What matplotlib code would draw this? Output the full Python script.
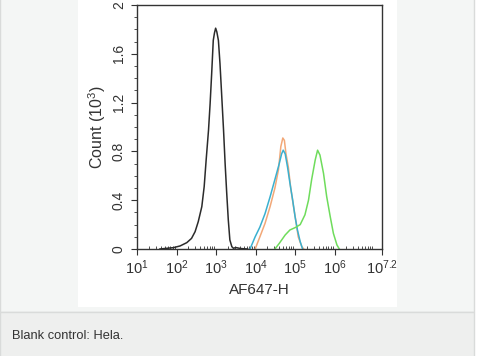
import numpy as np
import matplotlib
matplotlib.use("Agg")
import matplotlib.pyplot as plt
from matplotlib.patches import Rectangle

plt.rcParams['font.family'] = ['Liberation Sans', 'DejaVu Sans']
plt.rcParams['mathtext.fontset'] = 'custom'
plt.rcParams['mathtext.rm'] = 'Liberation Sans'
plt.rcParams['mathtext.it'] = 'Liberation Sans:italic'
plt.rcParams['mathtext.default'] = 'regular'

# histograms: x as log10(AF647-H), y as count (10^3)
black_x = [1.58, 1.92, 2.09, 2.26, 2.38, 2.47, 2.55, 2.64, 2.70, 2.75, 2.81, 2.85,
           2.89, 2.93, 2.96, 2.99, 3.02, 3.06, 3.10, 3.14, 3.19, 3.23, 3.27, 3.31,
           3.35, 3.40, 3.44, 3.50, 3.56, 3.62, 3.70, 3.80]
black_y = [0.0, 0.011, 0.025, 0.052, 0.087, 0.142, 0.224, 0.347, 0.511, 0.73, 0.975, 1.19,
           1.44, 1.71, 1.77, 1.81, 1.78, 1.71, 1.52, 1.28, 0.975, 0.70, 0.46, 0.24,
           0.074, 0.019, 0.006, 0.012, 0.008, 0.004, 0.002, 0.0]

orange_x = [3.99, 4.11, 4.24, 4.37, 4.49, 4.58, 4.64, 4.69, 4.73, 4.77, 4.83, 4.89,
            4.96, 5.03, 5.08, 5.17, 5.22]
orange_y = [0.0, 0.10, 0.21, 0.35, 0.50, 0.65, 0.84, 0.91, 0.89, 0.78, 0.67, 0.50,
            0.35, 0.21, 0.10, 0.02, 0.0]

blue_x = [3.86, 3.99, 4.11, 4.24, 4.37, 4.49, 4.60, 4.66, 4.70, 4.75, 4.81, 4.87,
          4.94, 5.00, 5.06, 5.13, 5.19]
blue_y = [0.0, 0.10, 0.18, 0.29, 0.43, 0.57, 0.70, 0.78, 0.81, 0.78, 0.67, 0.54,
          0.40, 0.265, 0.156, 0.06, 0.0]

green_x = [4.49, 4.60, 4.75, 4.87, 5.00, 5.13, 5.25, 5.34, 5.42, 5.51, 5.57, 5.63,
           5.72, 5.80, 5.89, 5.97, 6.06, 6.12]
green_y = [0.0, 0.046, 0.115, 0.156, 0.175, 0.20, 0.28, 0.40, 0.57, 0.73, 0.81, 0.77,
           0.62, 0.43, 0.265, 0.128, 0.033, 0.0]

xtick_exp = [1, 2, 3, 4, 5, 6, 7.2]
xtick_labels = ['$10^{1}$', '$10^{2}$', '$10^{3}$', '$10^{4}$', '$10^{5}$', '$10^{6}$', '$10^{7.2}$']
yticks = [0, 0.4, 0.8, 1.2, 1.6, 2]
ytick_labels = ['0', '0.4', '0.8', '1.2', '1.6', '2']

fig = plt.figure(figsize=(4.84, 3.56), dpi=100)
fig.patch.set_facecolor('white')

W, H = 484.0, 356.0
def frac(x0, y0, x1, y1):
    # pixel box (top-left origin) -> figure fraction rectangle args
    return (x0 / W, 1 - y1 / H), (x1 - x0) / W, (y1 - y0) / H

xy, w, h = frac(0, -2, 474, 312)
fig.patches.append(Rectangle(xy, w, h, transform=fig.transFigure, facecolor='#f4f6f5',
                             edgecolor='#d9dbda', lw=1, zorder=-3))
xy, w, h = frac(0, 312, 474, 358)
fig.patches.append(Rectangle(xy, w, h, transform=fig.transFigure, facecolor='#eeefee',
                             edgecolor='#d9dbda', lw=1, zorder=-3))
xy, w, h = frac(78, -2, 397, 307)
fig.patches.append(Rectangle(xy, w, h, transform=fig.transFigure, facecolor='white',
                             edgecolor='none', zorder=-2))

ax = fig.add_axes([137 / W, 1 - 249 / H, (382 - 137) / W, (249 - 5) / H])
ax.set_zorder(2)
ax.set_facecolor('white')

lw = 1.1
ax.plot(10 ** np.array(black_x), black_y, color='#2b2b2b', lw=lw)
ax.plot(10 ** np.array(orange_x), orange_y, color='#f2a878', lw=lw)
ax.plot(10 ** np.array(blue_x), blue_y, color='#3ab0d0', lw=lw)
ax.plot(10 ** np.array(green_x), green_y, color='#6fdc5c', lw=lw)

ax.set_xscale('log')
ax.set_xlim(10, 10 ** 7.2)
ax.set_ylim(0, 2)
ax.set_xticks([10 ** e for e in xtick_exp])
ax.set_xticklabels(xtick_labels)
ax.xaxis.set_minor_locator(matplotlib.ticker.LogLocator(base=10, subs=np.arange(2, 10), numticks=20))
ax.xaxis.set_minor_formatter(matplotlib.ticker.NullFormatter())
ax.set_yticks(yticks)
ax.set_yticklabels(ytick_labels, rotation=90, va='center')
ax.set_yticks(np.arange(0, 2.01, 0.1), minor=True)

for s in ax.spines.values():
    s.set_color('#333333')
    s.set_linewidth(1.0)

ax.tick_params(axis='both', which='major', direction='out', length=4, width=0.8,
               color='#333333', labelsize=10, labelcolor='#333333')
ax.tick_params(axis='x', which='major', labelsize=10.5, pad=3)
ax.tick_params(axis='y', which='major', pad=4)
ax.tick_params(axis='y', which='minor', direction='out', length=2, width=0.6, color='#333333')
ax.tick_params(axis='x', which='minor', direction='in', length=2, width=0.6, color='#333333')

ax.set_xlabel('AF647-H', fontsize=11, color='#333333', labelpad=4)
ax.set_ylabel('Count (10$^3$)', fontsize=11.5, color='#333333', labelpad=3)

fig.text(12 / W, 1 - 336 / H, 'Blank control: Hela.', fontsize=9.3, color='#333333',
         va='center', ha='left')

fig.savefig('out.png', dpi=100)
